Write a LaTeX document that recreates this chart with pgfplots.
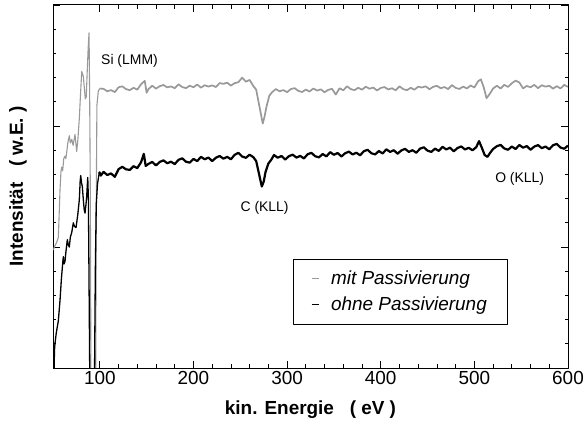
\documentclass[border=0pt]{standalone}
\usepackage{pgfplots}
\pgfplotsset{compat=1.18}
\usepackage{fontspec}
\setmainfont{Liberation Sans}
\definecolor{passgray}{gray}{0.6}

% Auger spectra, kinetic energy (eV) vs. intensity (arb. units)
\pgfplotstableread{
E I
50.3 9.75
52.0 10.1
54.0 10.4
55.7 10.8
56.5 12.5
57.5 14.75
58.5 16.2
59.3 16.6
60.3 16.3
61.5 17.3
62.8 17.5
63.7 17.3
64.6 17.8
65.8 18.6
67.4 19.2
68.5 18.6
70.0 18.9
71.5 18.4
73.5 19.3
75.3 17.9
76.5 18.8
78.1 20.6
79.5 22.8
80.7 24.5
82.4 24.1
84.5 22.25
85.5 22.4
86.6 24.6
87.6 26.5
88.5 27.7
89.2 22.0
89.9 14.0
90.5 -1
95.6 -1
96.3 15.0
96.9 21.7
98.4 22.9
100 23.1
104 23.07
108 22.87
112 22.97
116 22.80
120 23.2
124 23.28
128 23.05
132 22.96
136 23.16
140 23.0
144 23.45
148 23.73
150 22.75
152 23.05
156 23.33
160 23.09
164 23.29
168 23.39
172 23.19
176 23.27
180 23.12
184 23.45
188 23.22
192 23.13
196 23.33
200 23.2
204 23.43
208 23.17
212 23.37
216 23.26
220 23.36
224 23.22
228 23.55
232 23.48
236 23.58
240 23.34
244 23.54
248 23.62
252 24.0
256 23.66
260 23.81
264 23.3
267 23.0
270 21.8
272 21.0
274 20.2
276 20.8
278 21.6
281 22.5
284 22.8
288 23.05
292 22.87
296 22.97
300 22.8
304 23.05
308 23.13
312 22.9
316 22.81
320 23.01
324 22.85
328 23.1
332 22.93
336 23.03
340 22.79
344 22.99
348 23.07
352 22.6
356 23.12
360 22.95
364 23.28
368 23.05
372 22.96
376 23.16
380 23.0
384 23.25
388 23.08
392 23.18
396 22.94
400 23.14
404 23.22
408 23.02
412 23.12
416 22.95
420 23.28
424 23.05
428 22.96
432 23.16
436 23.0
440 23.25
444 23.18
448 23.28
452 23.04
456 23.24
460 23.32
464 23.12
468 23.22
472 23.05
476 23.38
480 23.15
484 23.06
488 23.26
492 23.1
496 23.35
500 23.18
504 23.7
507 23.85
510 23.2
513 22.3
516 22.6
520 23.1
524 23.33
528 23.1
532 23.4
536 23.23
540 23.53
544 23.75
548 23.6
552 23.11
556 23.31
560 23.2
564 23.4
568 23.13
572 23.37
576 23.25
580 23.33
584 23.09
588 23.29
592 23.1
596 23.4
600 23.23
}\mitpass

\pgfplotstableread{
E I
51.1 -0.3
51.6 1.5
52.1 2.0
53.5 2.9
55.7 3.9
57.5 5.6
59.0 7.4
60.4 8.7
61.0 9.2
61.8 8.6
62.8 8.8
63.8 9.6
65.3 10.6
66.3 10.2
67.4 10.0
68.5 10.8
70.0 11.2
71.7 12.0
73.0 11.7
74.6 11.6
76.5 12.7
78.1 13.9
79.0 15.4
79.6 15.9
80.5 15.3
81.3 15.0
82.4 13.9
83.3 13.1
84.2 12.8
85.2 13.5
86.0 14.2
87.1 15.75
87.8 14.0
88.6 6.0
89.3 -1
94.3 -1
95.2 8.0
96.2 13.5
97.5 15.2
99.5 16.2
101 15.9
104 16.21
108 15.95
112 16.08
116 15.8
120 16.43
124 16.63
128 16.42
132 16.37
136 16.68
140 16.52
144 17.0
147 17.7
149 16.7
152 16.87
156 17.03
160 16.74
164 17.03
168 17.16
172 16.92
176 17.05
180 16.85
184 17.2
188 17.33
192 17.05
196 16.97
200 17.28
204 17.1
208 17.45
212 17.25
216 17.39
220 17.1
224 17.38
228 17.52
232 17.3
236 17.45
240 17.25
244 17.62
248 17.78
252 17.48
256 17.37
260 17.63
264 17.42
267 17.1
269 16.4
271 15.7
273 15.0
275 15.4
277 16.2
280 16.9
283 17.2
286 17.6
290 17.38
294 17.52
298 17.23
302 17.51
306 17.63
310 17.39
314 17.53
318 17.32
322 17.67
326 17.78
330 17.5
334 17.41
338 17.68
342 17.49
346 17.84
350 17.62
354 17.77
358 17.48
362 17.75
366 17.88
370 17.65
374 17.79
378 17.58
382 17.92
386 18.03
390 17.75
394 17.65
398 17.93
402 17.73
406 18.07
410 17.86
414 18.0
418 17.71
422 17.98
426 18.11
430 17.86
434 18.0
438 17.79
442 18.13
446 18.24
450 17.96
454 17.86
458 18.13
462 17.94
466 18.28
470 18.06
474 18.21
478 17.91
482 18.18
486 18.31
490 18.06
494 18.2
498 17.99
502 18.25
505 18.75
508 18.2
511 17.6
514 17.45
517 17.8
520 18.1
524 18.33
528 18.44
532 18.14
536 18.04
540 18.3
544 18.1
548 18.43
552 18.21
556 18.34
560 18.04
564 18.3
568 18.42
572 18.17
576 18.3
580 18.08
584 18.41
588 18.52
592 18.22
596 18.12
600 18.38
}\ohnepass

\begin{document}
\begin{tikzpicture}
\path[use as bounding box] (-53bp,-58bp) rectangle (534bp,368bp);
\begin{axis}[
  at={(0,0)}, anchor=south west,
  width=515bp, height=363bp, scale only axis,
  xmin=50, xmax=600, ymin=0, ymax=30,
  xtick={100,200,...,600}, minor x tick num=4,
  ytick={0,10,20,30}, minor y tick num=4, yticklabels={},
  tick align=inside,
  major tick length=7bp, minor tick length=3.5bp,
  every tick/.style={black, line width=0.8bp},
  axis line style={line width=1bp},
  ticklabel style={font=\fontsize{19}{22}\selectfont},
  /pgf/number format/assume math mode=true,
  xlabel={kin. Energie\ \ \ ( eV )},
  ylabel={Intensität\ \ \ ( w.E. )},
  label style={font=\fontsize{19}{22}\selectfont\bfseries},
  xlabel style={at={(axis description cs:0.5,-0.116)}, anchor=center},
  ylabel style={at={(axis description cs:-0.068,0.5)}, anchor=center},
  clip=true,
  line join=round,
  legend cell align=left,
  legend image code/.code={\draw[#1, line width=0.8bp] (0bp,0bp) -- (7bp,0bp);},
  legend style={at={(axis description cs:0.466,0.301)}, anchor=north west,
    draw=black, line width=0.6bp,
    font=\fontsize{19}{22}\selectfont\itshape,
    inner xsep=18bp, inner ysep=10bp, column sep=10bp, row sep=7bp},
]
% Si region below 100 eV: thin traces
\addplot[passgray, line width=1.1bp, forget plot,
  restrict x to domain=50:100.5] table[x=E, y=I] {\mitpass};
\addplot[black, line width=1.3bp, forget plot,
  restrict x to domain=50:101.5] table[x=E, y=I] {\ohnepass};
% noisy plateau above 100 eV
\addplot[passgray, line width=1.7bp,
  restrict x to domain=99.5:600] table[x=E, y=I] {\mitpass};
\addlegendentry{mit Passivierung}
\addplot[black, line width=2.2bp,
  restrict x to domain=99:600] table[x=E, y=I] {\ohnepass};
\addlegendentry{ohne Passivierung}

\node[font=\fontsize{14}{16}\selectfont] at (axis cs:131.7,25.4) {Si (LMM)};
\node[font=\fontsize{14}{16}\selectfont] at (axis cs:276,13.25) {C (KLL)};
\node[font=\fontsize{14}{16}\selectfont] at (axis cs:548.4,15.6) {O (KLL)};
\end{axis}
\end{tikzpicture}
\end{document}
